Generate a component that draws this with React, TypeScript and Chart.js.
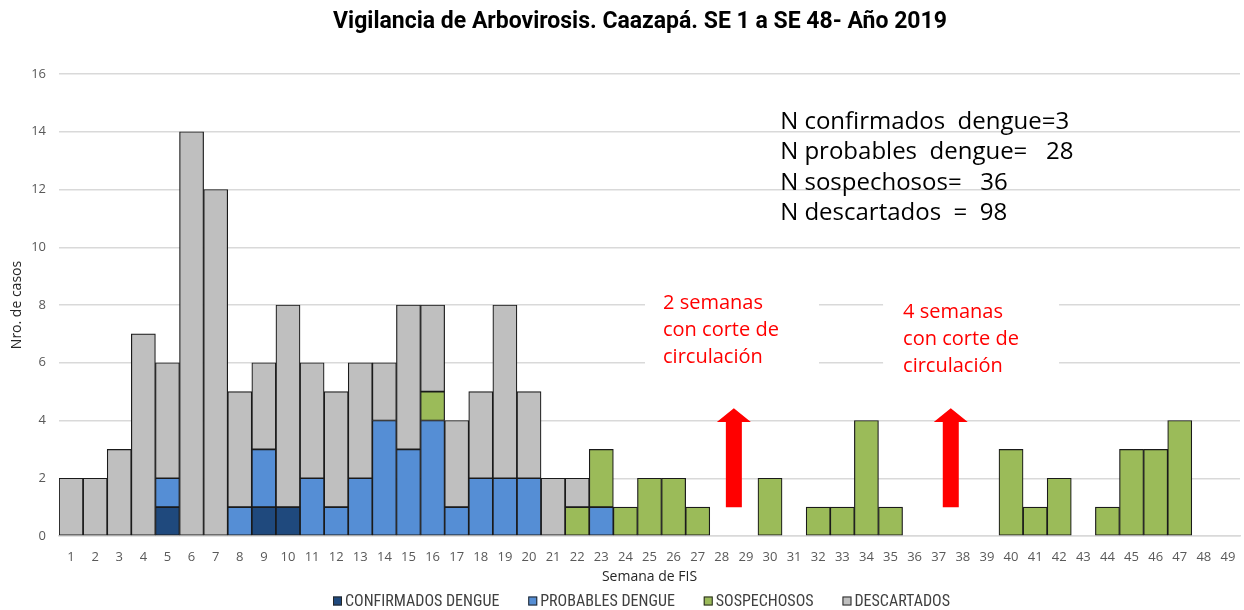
import React, { useEffect, useRef } from "react";
import { Chart, registerables } from "chart.js";

Chart.register(...registerables);

// ---- Data ----
const semanas = [
  "1", "2", "3", "4", "5", "6", "7", "8", "9", "10",
  "11", "12", "13", "14", "15", "16", "17", "18", "19", "20",
  "21", "22", "23", "24", "25", "26", "27", "28", "29", "30",
  "31", "32", "33", "34", "35", "36", "37", "38", "39", "40",
  "41", "42", "43", "44", "45", "46", "47", "48", "49",
];

const confirmados = [
  0, 0, 0, 0, 1, 0, 0, 0, 1, 1,
  0, 0, 0, 0, 0, 0, 0, 0, 0, 0,
  0, 0, 0, 0, 0, 0, 0, 0, 0, 0,
  0, 0, 0, 0, 0, 0, 0, 0, 0, 0,
  0, 0, 0, 0, 0, 0, 0, 0, 0,
];

const probables = [
  0, 0, 0, 0, 1, 0, 0, 1, 2, 0,
  2, 1, 2, 4, 3, 4, 1, 2, 2, 2,
  0, 0, 1, 0, 0, 0, 0, 0, 0, 0,
  0, 0, 0, 0, 0, 0, 0, 0, 0, 0,
  0, 0, 0, 0, 0, 0, 0, 0, 0,
];

const sospechosos = [
  0, 0, 0, 0, 0, 0, 0, 0, 0, 0,
  0, 0, 0, 0, 0, 1, 0, 0, 0, 0,
  0, 1, 2, 1, 2, 2, 1, 0, 0, 2,
  0, 1, 1, 4, 1, 0, 0, 0, 0, 3,
  1, 2, 0, 1, 3, 3, 4, 0, 0,
];

const descartados = [
  2, 2, 3, 7, 4, 14, 12, 4, 3, 7,
  4, 4, 4, 2, 5, 3, 3, 3, 6, 3,
  2, 1, 0, 0, 0, 0, 0, 0, 0, 0,
  0, 0, 0, 0, 0, 0, 0, 0, 0, 0,
  0, 0, 0, 0, 0, 0, 0, 0, 0,
];

const seriesLabels = ["CONFIRMADOS DENGUE", "PROBABLES DENGUE", "SOSPECHOSOS", "DESCARTADOS"];
const seriesColors = ["#1F497D", "#558ED5", "#9BBB59", "#BFBFBF"];

const yMax = 16;
const yStep = 2;

const titulo = "Vigilancia de Arbovirosis. Caazapá. SE 1 a SE 48- Año 2019";
const ejeX = "Semana de FIS";
const ejeY = "Nro. de casos";

const resumen = [
  "N confirmados  dengue=3",
  "N probables  dengue=   28",
  "N sospechosos=   36",
  "N descartados  =  98",
];
const corte1 = ["2 semanas", "con corte de", "circulación"];
const corte2 = ["4 semanas", "con corte de", "circulación"];

// arrow positions (category index, 0-based) and value extent
const flechasX = [27.5, 36.5];
const flechaDesde = 1;
const flechaBase = 3.95;
const flechaHasta = 4.42;

const FONT = "'Open Sans', 'Noto Sans', sans-serif";
const LEGEND_FONT = "'Liberation Sans Narrow', 'Roboto Condensed', Roboto, sans-serif";

const nz = (arr: number[]) => arr.map((v) => (v === 0 ? null : v));

const overlayPlugin = {
  id: "overlay",
  beforeDatasetsDraw(chart: any) {
    const { ctx, scales } = chart;
    const x = scales.x;
    const y = scales.y;
    ctx.save();
    ctx.fillStyle = "#ffffff";
    const n1x = x.getPixelForValue(24.56);
    const n1y = y.getPixelForValue(8.06);
    ctx.fillRect(n1x - 18, n1y - 23, 174, 105);
    const n2x = x.getPixelForValue(34.52);
    const n2y = y.getPixelForValue(7.76);
    ctx.fillRect(n2x - 20, n2y - 23, 176, 105);
    ctx.restore();
  },
  afterDatasetsDraw(chart: any) {
    const { ctx, scales } = chart;
    const x = scales.x;
    const y = scales.y;
    ctx.save();
    ctx.fillStyle = "#FF0000";
    for (const fx of flechasX) {
      const cx = x.getPixelForValue(fx);
      const yb = y.getPixelForValue(flechaDesde);
      const yh = y.getPixelForValue(flechaBase);
      const yt = y.getPixelForValue(flechaHasta);
      const sw = 8;
      const hw = 17;
      ctx.beginPath();
      ctx.moveTo(cx - sw, yb);
      ctx.lineTo(cx - sw, yh);
      ctx.lineTo(cx - hw, yh);
      ctx.lineTo(cx, yt);
      ctx.lineTo(cx + hw, yh);
      ctx.lineTo(cx + sw, yh);
      ctx.lineTo(cx + sw, yb);
      ctx.closePath();
      ctx.fill();
    }
    ctx.restore();
  },
  afterDraw(chart: any) {
    const { ctx, scales } = chart;
    const x = scales.x;
    const y = scales.y;
    ctx.save();
    // title
    ctx.fillStyle = "#000000";
    ctx.font = `bold 23px Roboto, sans-serif`;
    ctx.textAlign = "center";
    ctx.textBaseline = "middle";
    ctx.fillText(titulo, 640, 22);

    // summary text
    ctx.textAlign = "left";
    ctx.font = `24px ${FONT}`;
    const sx = x.getPixelForValue(29.42);
    const sy = y.getPixelForValue(14.34);
    resumen.forEach((t, i) => ctx.fillText(t, sx, sy + i * 30.5));

    // red notes
    ctx.fillStyle = "#FF0000";
    ctx.font = `20px ${FONT}`;
    const n1x = x.getPixelForValue(24.56);
    const n1y = y.getPixelForValue(8.06);
    corte1.forEach((t, i) => ctx.fillText(t, n1x, n1y + i * 27));
    const n2x = x.getPixelForValue(34.52);
    const n2y = y.getPixelForValue(7.76);
    corte2.forEach((t, i) => ctx.fillText(t, n2x, n2y + i * 27));

    // legend
    ctx.font = `16px ${LEGEND_FONT}`;
    const box = 9;
    const gapBoxText = 3;
    const ds = chart.data.datasets;
    const widths = ds.map((d: any) => box + gapBoxText + ctx.measureText(d.label).width);
    const total = 617;
    const sum = widths.reduce((a: number, b: number) => a + b, 0);
    const gap = Math.max(15, (total - sum) / (ds.length - 1));
    let lx = 333;
    const ly = 601;
    ds.forEach((d: any, i: number) => {
      ctx.fillStyle = d.backgroundColor;
      ctx.fillRect(lx, ly - box / 2, box, box);
      ctx.strokeStyle = "#262626";
      ctx.lineWidth = 1;
      ctx.strokeRect(lx + 0.5, ly - box / 2 + 0.5, box - 1, box - 1);
      ctx.fillStyle = "#404040";
      ctx.textAlign = "left";
      ctx.textBaseline = "middle";
      ctx.fillText(d.label, lx + box + gapBoxText, ly + 0.5);
      lx += widths[i] + gap;
    });
    ctx.restore();
  },
};

export default function App() {
  const ref = useRef<HTMLCanvasElement>(null);

  useEffect(() => {
    document.body.style.margin = "0";
    const series = [confirmados, probables, sospechosos, descartados];
    const chart = new Chart(ref.current as HTMLCanvasElement, {
      type: "bar",
      data: {
        labels: semanas,
        datasets: series.map((s, i) => ({
          label: seriesLabels[i],
          data: nz(s) as any,
          backgroundColor: seriesColors[i],
          borderColor: "#1a1a1a",
          borderWidth: 1.2,
          borderSkipped: false,
          barPercentage: 1,
          categoryPercentage: 1,
        })),
      },
      options: {
        responsive: false,
        animation: false,
        layout: { padding: { top: 74, right: 4, bottom: 25, left: 0 } },
        plugins: {
          legend: { display: false },
          title: { display: false },
          tooltip: { enabled: false },
        },
        scales: {
          x: {
            stacked: true,
            grid: {
              display: true,
              drawOnChartArea: false,
              drawTicks: true,
              tickLength: 9,
              tickColor: "rgba(0,0,0,0)",
            },
            border: { display: true, color: "#d9d9d9", width: 1.5 },
            ticks: {
              font: { family: FONT, size: 13 },
              color: "#595959",
              padding: 4,
              autoSkip: false,
              maxRotation: 0,
            },
            title: {
              display: true,
              text: ejeX,
              font: { family: FONT, size: 14 },
              color: "#262626",
              padding: { top: 0, bottom: 0 },
            },
            afterFit: (s: any) => {
              s.height = 49;
            },
          },
          y: {
            stacked: true,
            min: 0,
            max: yMax,
            ticks: {
              stepSize: yStep,
              font: { family: FONT, size: 13 },
              color: "#595959",
              padding: 13,
            },
            grid: { color: "#d9d9d9", lineWidth: 1.5, drawTicks: false },
            border: { display: false },
            title: {
              display: true,
              text: ejeY,
              font: { family: FONT, size: 14 },
              color: "#262626",
              padding: { top: 9, bottom: 0 },
            },
            afterFit: (s: any) => {
              s.width = 59;
            },
          },
        },
      },
      plugins: [overlayPlugin],
    });
    return () => chart.destroy();
  }, []);

  return <canvas ref={ref} width={1244} height={610} style={{ display: "block" }} />;
}
